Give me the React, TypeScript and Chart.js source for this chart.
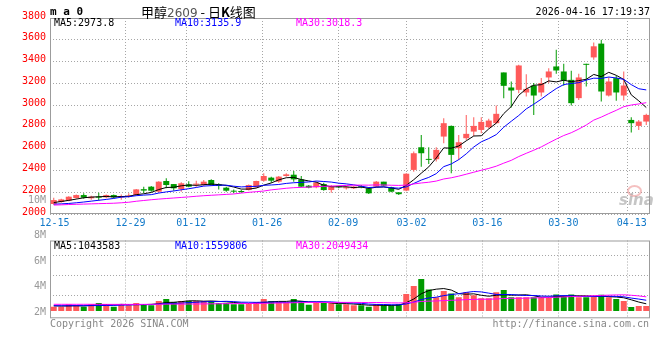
import React, { useEffect, useRef } from "react";
import { Chart, registerables } from "chart.js";

Chart.register(...registerables);

// ---------- data ----------
const dates = [
  "12-15","12-16","12-17","12-18","12-19","12-22","12-23","12-24","12-25","12-26",
  "12-29","12-30","12-31","01-05","01-06","01-07","01-08","01-09","01-12","01-13",
  "01-14","01-15","01-16","01-19","01-20","01-21","01-22","01-23","01-26","01-27",
  "01-28","01-29","01-30","02-02","02-03","02-04","02-05","02-06","02-09","02-10",
  "02-11","02-12","02-13","02-24","02-25","02-26","02-27","03-02","03-03","03-04",
  "03-05","03-06","03-09","03-10","03-11","03-12","03-13","03-16","03-17","03-18",
  "03-19","03-20","03-23","03-24","03-25","03-26","03-27","03-30","03-31","04-01",
  "04-02","04-03","04-07","04-08","04-09","04-10","04-13","04-14","04-15","04-16",
];

const tickDates = ["12-15","12-29","01-12","01-26","02-09","03-02","03-16","03-30","04-13"];

const opens = [
  2092,2110,2122,2147,2174,2144,2159,2153,2174,2153,
  2159,2174,2228,2251,2205,2303,2275,2229,2272,2269,
  2266,2312,2272,2242,2214,2211,2220,2245,2306,2334,
  2297,2349,2361,2318,2260,2245,2275,2220,2250,2236,
  2236,2255,2236,2251,2297,2245,2199,2215,2405,2613,
  2506,2503,2711,2809,2604,2696,2757,2772,2797,2834,
  3300,3162,3140,3116,3180,3116,3254,3355,3309,3232,
  3064,3379,3438,3565,3088,3248,3088,2864,2809,2849,
];
const highs = [
  2150,2140,2162,2178,2190,2168,2196,2180,2180,2180,
  2190,2230,2250,2257,2300,2328,2275,2291,2300,2306,
  2312,2318,2282,2251,2226,2220,2270,2306,2374,2343,
  2349,2374,2395,2349,2266,2297,2288,2266,2260,2254,
  2257,2266,2245,2303,2297,2251,2200,2375,2573,2726,
  2613,2613,2880,2812,2726,2910,2889,2889,2874,2996,
  3300,3217,3370,3284,3202,3248,3339,3508,3379,3315,
  3287,3379,3575,3600,3257,3269,3309,2889,2864,2920,
];
const lows = [
  2085,2104,2118,2140,2140,2130,2125,2144,2144,2130,
  2150,2168,2192,2205,2200,2236,2214,2205,2245,2251,
  2260,2260,2226,2205,2190,2194,2215,2240,2297,2288,
  2288,2343,2297,2245,2236,2236,2214,2196,2236,2226,
  2230,2236,2183,2245,2255,2200,2175,2210,2389,2435,
  2460,2481,2650,2374,2497,2680,2717,2742,2788,2828,
  3064,2978,3110,3079,2910,3079,3202,3287,3177,2996,
  3048,3171,3416,3033,3079,3039,3042,2748,2772,2818,
];
const closes = [
  2128,2134,2159,2174,2150,2159,2150,2174,2153,2165,
  2170,2226,2215,2214,2297,2266,2236,2282,2251,2279,
  2297,2266,2257,2214,2205,2202,2266,2303,2349,2306,
  2343,2364,2318,2251,2242,2288,2220,2251,2246,2245,
  2251,2245,2190,2297,2260,2205,2182,2370,2558,2558,
  2497,2589,2834,2543,2659,2736,2809,2846,2858,2920,
  3177,3134,3364,3149,3088,3202,3309,3318,3226,3018,
  3254,3370,3540,3125,3217,3116,3180,2834,2849,2910,
];
const volumes = [
  630000,630000,970000,820000,630000,1010000,1160000,1010000,630000,1010000,
  820000,1160000,1010000,820000,1450000,1740000,1300000,1450000,1450000,1450000,
  1450000,1450000,1160000,1160000,970000,970000,1160000,1300000,1740000,1450000,
  1300000,1160000,1740000,1450000,920000,1160000,1160000,1110000,970000,970000,
  820000,820000,630000,970000,820000,820000,970000,2460000,3620000,4640000,
  3100000,2000000,2900000,2550000,2000000,2700000,2300000,1850000,1850000,2700000,
  3050000,2000000,2000000,2000000,2000000,2000000,2000000,2400000,2200000,2400000,
  2000000,2000000,2050000,2350000,2000000,1740000,1450000,580000,720000,720000,
];

// moving-average values visible before enough bars exist
const ma5Lead = [2105, 2115, 2125, 2137];
const ma10Lead = [2090, 2093, 2097, 2103, 2110, 2118, 2126, 2134, 2143];
const ma30Lead = [
  2082,2084,2087,2089,2091,2093,2095,2097,2099,2103,
  2108,2117,2124,2131,2137,2142,2147,2152,2157,2163,
  2168,2172,2176,2180,2184,2192,2199,2205,2211,
];
const vma5Lead = [750000, 720000, 740000, 760000];
const vma10Lead = [760000, 760000, 760000, 770000, 770000, 780000, 790000, 800000, 810000];
const vma30Lead = [
  970000,970000,970000,970000,970000,970000,970000,960000,960000,960000,
  960000,960000,960000,970000,980000,990000,1000000,1000000,1010000,1020000,
  1030000,1040000,1050000,1060000,1070000,1080000,1090000,1100000,1110000,
];

const priceLegend = ["MA5:2973.8", "MA10:3135.9", "MA30:3018.3"];
const volLegend = ["MA5:1043583", "MA10:1559806", "MA30:2049434"];
const volLabelTicks = [2, 4, 6, 8];
const volGridTicks = [2280000, 5170000, 8070000];

// ---------- styles ----------
const UP = "#ff5a5a";
const DOWN = "#009a00";
const GRID = "#a6a6a6";
const FRAME = "#9c9c9c";
const MONO = '"DejaVu Sans Mono", monospace';
const MA_COLORS = ["#000000", "#0000ff", "#ff00ff"];

function movingAverage(src: number[], n: number, lead: number[]) {
  return src.map((_, i) => {
    if (i < n - 1) return lead[i];
    let s = 0;
    for (let k = i - n + 1; k <= i; k++) s += src[k];
    return s / n;
  });
}

const framePlugin = {
  id: "frame",
  beforeDatasetsDraw(chart: any) {
    const { ctx, chartArea } = chart;
    const { left, top, right, bottom } = chartArea;
    ctx.save();
    ctx.strokeStyle = FRAME;
    ctx.lineWidth = 1;
    ctx.strokeRect(left + 0.5, top + 0.5, right - left - 1, bottom - top - 1);
    ctx.restore();
  },
};

export default function App() {
  const mainRef = useRef<HTMLCanvasElement>(null);
  const volRef = useRef<HTMLCanvasElement>(null);

  useEffect(() => {
    const n = closes.length;
    const gridValue = (i: number) => (i * n) / (n - 1) - 0.5;
    const labelIdx = tickDates.map((d) => dates.indexOf(d));
    const colors = closes.map((c, i) => (c >= opens[i] ? UP : DOWN));

    const ma5 = movingAverage(closes, 5, ma5Lead);
    const ma10 = movingAverage(closes, 10, ma10Lead);
    const ma30 = movingAverage(closes, 30, ma30Lead);
    const vma5 = movingAverage(volumes, 5, vma5Lead);
    const vma10 = movingAverage(volumes, 10, vma10Lead);
    const vma30 = movingAverage(volumes, 30, vma30Lead);

    const gridAxis = () => ({
      type: "linear",
      min: -0.5,
      max: n - 0.5,
      position: "bottom",
      offset: false,
      grid: { color: GRID, lineWidth: 1, drawTicks: false, offset: false },
      border: { display: false, dash: [1, 2] },
      ticks: { display: false },
      afterBuildTicks: (s: any) => {
        s.ticks = labelIdx.filter((i) => i > 0).map((i) => ({ value: gridValue(i) }));
      },
      afterFit: (s: any) => {
        s.height = 0;
      },
    });

    const maLine = (vals: number[], color: string) => ({
      type: "line",
      data: vals.map((v, i) => ({ x: i, y: v })),
      borderColor: color,
      borderWidth: 1,
      pointRadius: 0,
      tension: 0,
      fill: false,
      order: 0,
    });

    const main = new Chart(mainRef.current as HTMLCanvasElement, {
      type: "bar",
      data: {
        datasets: [
          {
            type: "bar",
            data: closes.map((_, i) => ({ x: i, y: [lows[i], highs[i]] })),
            backgroundColor: colors,
            barThickness: 1,
            grouped: false,
            inflateAmount: 0,
            order: 3,
          } as any,
          {
            type: "bar",
            data: closes.map((c, i) => ({ x: i, y: [opens[i], c] })),
            backgroundColor: colors,
            barThickness: 6,
            minBarLength: 1,
            grouped: false,
            inflateAmount: 0,
            order: 2,
          } as any,
          maLine(ma30, MA_COLORS[2]) as any,
          maLine(ma10, MA_COLORS[1]) as any,
          maLine(ma5, MA_COLORS[0]) as any,
        ],
      },
      options: {
        responsive: false,
        animation: false,
        devicePixelRatio: 1,
        events: [],
        layout: { padding: { top: 18, right: 10, bottom: 0, left: 0 } },
        plugins: { legend: { display: false }, tooltip: { enabled: false } },
        scales: {
          x: gridAxis() as any,
          xl: {
            type: "linear",
            min: -0.5,
            max: n - 0.5,
            position: "bottom",
            offset: false,
            grid: { display: false, drawTicks: false },
            border: { display: false },
            ticks: {
              color: "#1279c9",
              font: { family: MONO, size: 10 },
              padding: 3,
              autoSkip: false,
              maxRotation: 0,
              minRotation: 0,
              callback: (_v: any, idx: number) => tickDates[idx],
            },
            afterBuildTicks: (s: any) => {
              s.ticks = labelIdx.map((i) => ({ value: gridValue(i) + 0.6 }));
            },
            afterFit: (s: any) => {
              s.height = 14;
            },
          } as any,
          y: {
            type: "linear",
            min: 2000,
            max: 3800,
            position: "left",
            grid: { color: GRID, lineWidth: 1, drawTicks: false },
            border: { display: false, dash: [1, 2] },
            ticks: {
              stepSize: 200,
              color: "#ff0000",
              font: { family: MONO, size: 10 },
              padding: 4,
              labelOffset: -2,
              callback: (v: any) => String(v),
            },
            afterFit: (s: any) => {
              s.width = 50;
            },
          } as any,
        },
      },
      plugins: [framePlugin],
    });

    const vol = new Chart(volRef.current as HTMLCanvasElement, {
      type: "bar",
      data: {
        datasets: [
          {
            type: "bar",
            data: volumes.map((v, i) => ({ x: i, y: v })),
            backgroundColor: colors,
            barThickness: 6,
            grouped: false,
            inflateAmount: 0,
            order: 2,
            yAxisID: "yv",
          } as any,
          { ...(maLine(vma30, MA_COLORS[2]) as any), yAxisID: "yv" },
          { ...(maLine(vma10, MA_COLORS[1]) as any), yAxisID: "yv" },
          { ...(maLine(vma5, MA_COLORS[0]) as any), yAxisID: "yv" },
        ],
      },
      options: {
        responsive: false,
        animation: false,
        devicePixelRatio: 1,
        events: [],
        layout: { padding: { top: 12.5, right: 10, bottom: 41.7, left: 0 } },
        plugins: { legend: { display: false }, tooltip: { enabled: false } },
        scales: {
          x: gridAxis() as any,
          yl: {
            type: "linear",
            min: 1.504,
            max: 7.63,
            position: "left",
            grid: { display: false, drawTicks: false },
            border: { display: false },
            ticks: {
              color: "#999999",
              font: { family: MONO, size: 10 },
              padding: 4,
              callback: (v: any) => v + "M",
            },
            afterBuildTicks: (s: any) => {
              s.ticks = volLabelTicks.map((v) => ({ value: v }));
            },
            afterFit: (s: any) => {
              s.width = 50;
            },
          } as any,
          yv: {
            type: "linear",
            min: -1058000,
            max: 10217000,
            position: "left",
            grid: { color: GRID, lineWidth: 1, drawTicks: false },
            border: { display: false, dash: [1, 2] },
            ticks: { display: false },
            afterBuildTicks: (s: any) => {
              s.ticks = volGridTicks.map((v) => ({ value: v }));
            },
            afterFit: (s: any) => {
              s.width = 0;
            },
          } as any,
        },
      },
      plugins: [framePlugin],
    });

    return () => {
      main.destroy();
      vol.destroy();
    };
  }, []);

  const t = (style: React.CSSProperties): React.CSSProperties => ({
    position: "absolute",
    whiteSpace: "nowrap",
    fontFamily: MONO,
    fontSize: 10,
    lineHeight: "10px",
    ...style,
  });

  return (
    <div
      style={{
        position: "absolute",
        left: 0,
        top: 0,
        width: 660,
        height: 360,
        background: "#ffffff",
        overflow: "hidden",
      }}
    >
      <canvas
        ref={mainRef}
        width={660}
        height={228}
        style={{ position: "absolute", left: 0, top: 0, display: "block" }}
      />
      <canvas
        ref={volRef}
        width={660}
        height={132}
        style={{ position: "absolute", left: 0, top: 228, display: "block" }}
      />

      <div style={t({ left: 50, top: 6, fontSize: 11, lineHeight: "11px", fontWeight: "bold", color: "#000" })}>
        m a 0
      </div>
      <div
        style={t({
          left: 141,
          top: 4,
          fontFamily: '"Noto Sans CJK SC", sans-serif',
          fontSize: 13,
          lineHeight: "16px",
          color: "#000",
        })}
      >
        甲醇<span style={{ fontFamily: '"DejaVu Sans", sans-serif', fontSize: 12, color: "#555" }}>2609</span> - 日
        <b>K</b>线图
      </div>
      <div style={t({ right: 10, top: 7, color: "#000" })}>2026-04-16 17:19:37</div>

      <div style={t({ left: 54, top: 18, color: MA_COLORS[0] })}>{priceLegend[0]}</div>
      <div style={t({ left: 175, top: 18, color: MA_COLORS[1] })}>{priceLegend[1]}</div>
      <div style={t({ left: 296, top: 18, color: MA_COLORS[2] })}>{priceLegend[2]}</div>

      <div style={t({ right: 614, top: 195, color: "#999" })}>10M</div>

      <div style={t({ left: 54, top: 241, color: MA_COLORS[0] })}>{volLegend[0]}</div>
      <div style={t({ left: 175, top: 241, color: MA_COLORS[1] })}>{volLegend[1]}</div>
      <div style={t({ left: 296, top: 241, color: MA_COLORS[2] })}>{volLegend[2]}</div>

      <div style={t({ left: 50, top: 319, color: "#888" })}>Copyright 2026 SINA.COM</div>
      <div style={t({ right: 11, top: 319, color: "#888" })}>http://finance.sina.com.cn</div>

      <div
        style={{
          position: "absolute",
          left: 627,
          top: 185,
          width: 11,
          height: 8,
          border: "2px solid rgba(235,130,130,0.5)",
          borderRadius: "50%",
        }}
      />
      <div
        style={t({
          left: 619,
          top: 193,
          fontFamily: '"DejaVu Sans", sans-serif',
          fontSize: 15,
          lineHeight: "15px",
          fontStyle: "italic",
          fontWeight: "bold",
          color: "rgba(150,150,150,0.55)",
        })}
      >
        sina
      </div>
    </div>
  );
}
